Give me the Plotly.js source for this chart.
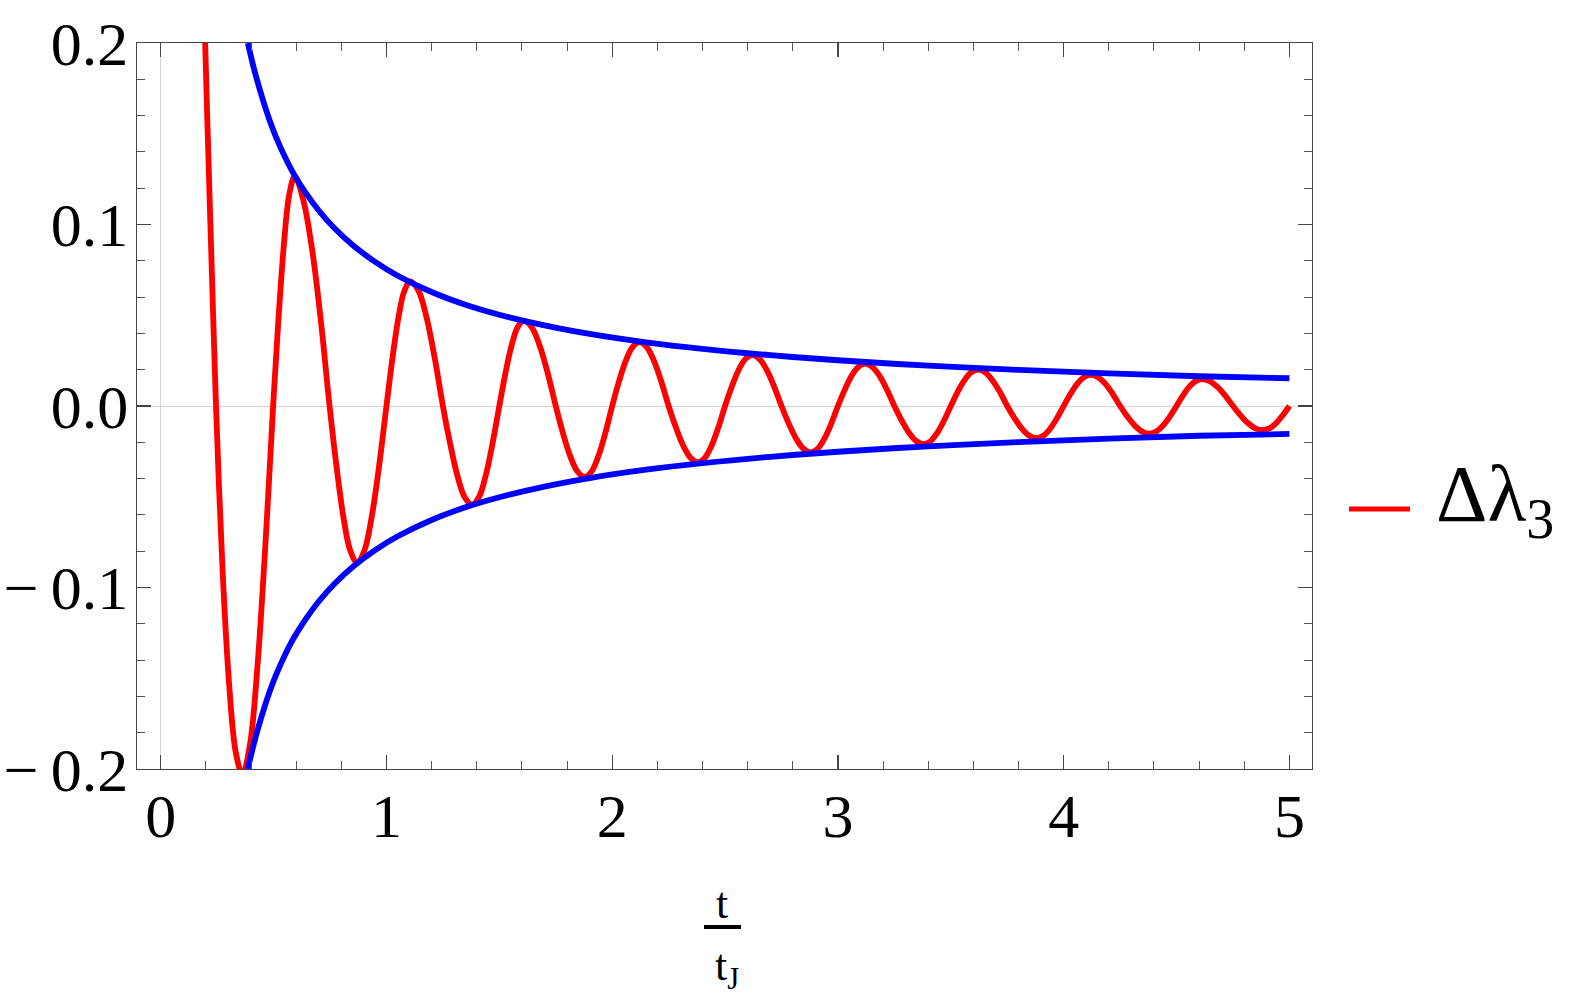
<!DOCTYPE html>
<html>
<head>
<meta charset="utf-8">
<script src="https://cdn.plot.ly/plotly-3.0.1.min.js"></script>
<style>html,body{margin:0;padding:0;background:#fff;}</style>
</head>
<body>
<div id="chart" style="width:1578px;height:1003px;"></div>
<script>
// ---- data ----
const redT = [0.180, 0.197, 0.209, 0.227, 0.245,
  0.2743, 0.3035, 0.3328, 0.362, 0.396, 0.430, 0.464, 0.498,
  0.522, 0.546, 0.570, 0.594, 0.6325, 0.671, 0.7095, 0.748,
  0.7785, 0.809, 0.8395, 0.870, 0.9025, 0.935, 0.9675, 1.000,
  1.0265, 1.053, 1.0795, 1.106, 1.142, 1.178, 1.214, 1.250,
  1.2823, 1.3145, 1.3468, 1.379, 1.4093, 1.4395, 1.4698, 1.500,
  1.527, 1.554, 1.581, 1.608, 1.6435, 1.679, 1.7145, 1.750,
  1.782, 1.814, 1.846, 1.878, 1.9085, 1.939, 1.9695, 2.000,
  2.030, 2.060, 2.090, 2.120, 2.1525, 2.185, 2.2175, 2.250,
  2.2825, 2.315, 2.3475, 2.380, 2.410, 2.440, 2.470, 2.500,
  2.530, 2.560, 2.590, 2.620, 2.6525, 2.685, 2.7175, 2.750,
  2.7825, 2.815, 2.8475, 2.880, 2.910, 2.940, 2.970, 3.000,
  3.030, 3.060, 3.090, 3.120, 3.1525, 3.185, 3.2175, 3.250,
  3.2825, 3.315, 3.3475, 3.380, 3.410, 3.440, 3.470, 3.500,
  3.530, 3.560, 3.590, 3.620, 3.6525, 3.685, 3.7175, 3.750,
  3.7825, 3.815, 3.8475, 3.880, 3.910, 3.940, 3.970, 4.000,
  4.030, 4.060, 4.090, 4.120, 4.1525, 4.185, 4.2175, 4.250,
  4.2825, 4.315, 4.3475, 4.380, 4.410, 4.440, 4.470, 4.500,
  4.528, 4.556, 4.584, 4.612, 4.6465, 4.681, 4.7155, 4.750,
  4.783, 4.816, 4.849, 4.882, 4.9115, 4.941, 4.9705, 5.000];
const redY = [0.290, 0.200, 0.147, 0.072, 0.000,
  -0.091, -0.154, -0.191, -0.203, -0.186, -0.141, -0.076, 0.000,
  0.0484, 0.0894, 0.1169, 0.1265, 0.113, 0.086, 0.047, 0.000,
  -0.033, -0.0609, -0.0796, -0.0862, -0.0796, -0.0609, -0.033, 0.000,
  0.0263, 0.0486, 0.0635, 0.0687, 0.0635, 0.0486, 0.0263, 0.000,
  -0.0208, -0.0385, -0.0503, -0.0544, -0.0503, -0.0385, -0.0208, 0.000,
  0.018, 0.0332, 0.0434, 0.047, 0.0434, 0.0332, 0.018, 0.000,
  -0.015, -0.0276, -0.0361, -0.0391, -0.0361, -0.0276, -0.015, 0.000,
  0.0135, 0.0249, 0.0325, 0.0352, 0.0325, 0.0249, 0.0135, 0.000,
  -0.0119, -0.0219, -0.0286, -0.031, -0.0286, -0.0219, -0.0119, 0.000,
  0.0107, 0.0198, 0.0259, 0.028, 0.0259, 0.0198, 0.0107, 0.000,
  -0.0098, -0.018, -0.0236, -0.0255, -0.0236, -0.018, -0.0098, 0.000,
  0.0089, 0.0165, 0.0215, 0.0233, 0.0215, 0.0165, 0.0089, 0.000,
  -0.008, -0.0148, -0.0194, -0.021, -0.0194, -0.0148, -0.008, 0.000,
  0.0077, 0.0141, 0.0185, 0.020, 0.0185, 0.0141, 0.0077, 0.000,
  -0.0068, -0.0125, -0.0164, -0.0177, -0.0164, -0.0125, -0.0068, 0.000,
  0.0066, 0.0122, 0.0159, 0.0172, 0.0159, 0.0122, 0.0066, 0.000,
  -0.0059, -0.0108, -0.0141, -0.0153, -0.0141, -0.0108, -0.0059, 0.000,
  0.0057, 0.0105, 0.0137, 0.0148, 0.0137, 0.0105, 0.0057, 0.000,
  -0.0051, -0.0094, -0.0123, -0.0133, -0.0123, -0.0094, -0.0051, 0.000];

const blueT = [0.386, 0.40, 0.42, 0.45, 0.48, 0.51, 0.55, 0.59, 0.64, 0.70, 0.77, 0.85, 0.95, 1.05, 1.20,
  1.35, 1.50, 1.70, 1.90, 2.15, 2.40, 2.70, 3.00, 3.40, 3.80, 4.20, 4.60, 5.00];
const blueUpper = [0.200, 0.1925, 0.1826, 0.1698, 0.1583, 0.1484, 0.1373, 0.1277, 0.1178, 0.1077, 0.0979,
  0.0887, 0.0794, 0.0718, 0.0628, 0.0558, 0.0503, 0.0444, 0.0397, 0.0351, 0.0315, 0.0280, 0.0252, 0.0222,
  0.0199, 0.0180, 0.0164, 0.0153];
const blueLower = [-0.200, -0.1925, -0.1826, -0.1698, -0.1583, -0.1484, -0.1373, -0.1277, -0.1178, -0.1077, -0.0979,
  -0.0887, -0.0794, -0.0718, -0.0628, -0.0558, -0.0503, -0.0444, -0.0397, -0.0351, -0.0315, -0.0280, -0.0252, -0.0222,
  -0.0199, -0.0180, -0.0164, -0.0154];

const xTickVals = [0, 1, 2, 3, 4, 5];
const xTickText = ['0', '1', '2', '3', '4', '5'];
const yTickVals = [-0.2, -0.1, 0.0, 0.1, 0.2];
const yTickText = ['\u2212\u20090.2', '\u2212\u20090.1', '0.0', '0.1', '0.2'];
const seriesName = '\u0394\u03BB<sub>3</sub>';
const xTitleTop = 't';
const xTitleBottom = 't<sub>J</sub>';
// ---------------------------------------

const FONT = 'Liberation Serif';
const RED = '#ff0000', BLUE = '#0000ff';
const traces = [
  {x: redT, y: redY, mode: 'lines', name: seriesName, showlegend: false,
   line: {color: RED, width: 5.8, shape: 'spline', smoothing: 1}},
  {x: blueT, y: blueUpper, mode: 'lines', showlegend: false, hoverinfo: 'skip',
   line: {color: BLUE, width: 5.8, shape: 'spline', smoothing: 1}},
  {x: blueT, y: blueLower, mode: 'lines', showlegend: false, hoverinfo: 'skip',
   line: {color: BLUE, width: 5.8, shape: 'spline', smoothing: 1}}
];

const L = 137, R = 266, T = 43, B = 234, W = 1578, H = 1003;
const pw = W - L - R, ph = H - T - B;
const px = v => (v - L) / pw;
const py = v => (H - B - v) / ph;

const axisCommon = {
  showline: true, linecolor: '#444', linewidth: 1.3, mirror: 'allticks',
  ticks: 'inside', ticklen: 14, tickwidth: 1.3, tickcolor: '#444',
  showgrid: false, zeroline: true, zerolinecolor: '#d4d4d4', zerolinewidth: 1,
  tickfont: {family: FONT, size: 62, color: '#000'}, tickmode: 'array'
};

const layout = {
  width: W, height: H,
  paper_bgcolor: '#fff', plot_bgcolor: '#fff',
  margin: {l: L, r: R, t: T, b: B, pad: 0},
  font: {family: FONT, color: '#000'},
  showlegend: false,
  xaxis: Object.assign({}, axisCommon, {
    range: [-0.105, 5.1], tickvals: xTickVals, ticktext: xTickText, ticklabelstandoff: -8,
    minor: {ticks: 'inside', ticklen: 8, tickwidth: 1, tickcolor: '#555', dtick: 0.2, tick0: 0, showgrid: false}
  }),
  yaxis: Object.assign({}, axisCommon, {
    range: [-0.2, 0.2], tickvals: yTickVals, ticktext: yTickText, ticklabelstandoff: -5,
    minor: {ticks: 'inside', ticklen: 8, tickwidth: 1, tickcolor: '#555', dtick: 0.02, tick0: 0, showgrid: false}
  }),
  annotations: [
    {xref: 'paper', yref: 'paper', x: px(722), y: py(903), xanchor: 'center', yanchor: 'middle',
     text: xTitleTop, showarrow: false, font: {family: FONT, size: 44, color: '#000'}},
    {xref: 'paper', yref: 'paper', x: px(727), y: py(968), xanchor: 'center', yanchor: 'middle',
     text: xTitleBottom, showarrow: false, font: {family: FONT, size: 44, color: '#000'}},
    // legend label
    {xref: 'paper', yref: 'paper', x: px(1434), y: py(500), xanchor: 'left', yanchor: 'middle',
     text: seriesName, showarrow: false, font: {family: FONT, size: 80, color: '#000'}}
  ],
  shapes: [
    {type: 'line', xref: 'paper', yref: 'paper', x0: px(704), x1: px(741), y0: py(927), y1: py(927),
     line: {color: '#000', width: 4}},
    // legend swatch
    {type: 'line', xref: 'paper', yref: 'paper', x0: px(1349), x1: px(1410), y0: py(509), y1: py(509),
     line: {color: RED, width: 5}}
  ]
};

Plotly.newPlot('chart', traces, layout, {displayModeBar: false, staticPlot: true});
</script>
</body>
</html>
